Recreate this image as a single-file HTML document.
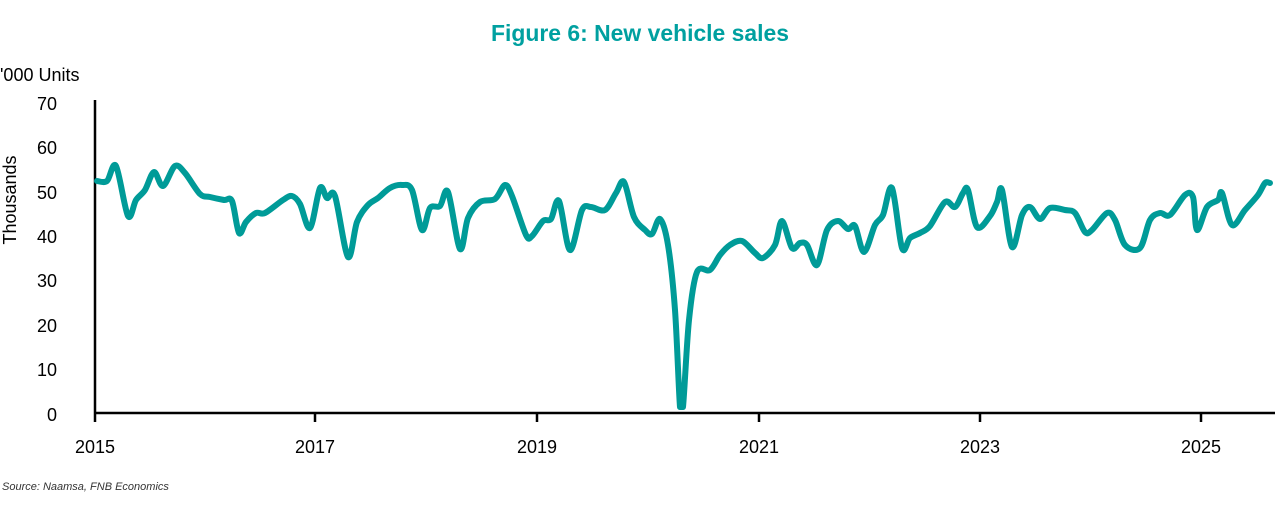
<!DOCTYPE html>
<html><head><meta charset="utf-8"><style>
body{margin:0;background:#fff;width:1280px;height:520px;overflow:hidden;font-family:"Liberation Sans",sans-serif}
</style></head><body>
<svg width="1280" height="520" xmlns="http://www.w3.org/2000/svg">
<text x="640" y="41" text-anchor="middle" font-family="Liberation Sans Narrow, Liberation Sans, sans-serif" font-weight="bold" font-size="23" fill="#00A0A0" textLength="298" lengthAdjust="spacingAndGlyphs">Figure 6: New vehicle sales</text>
<text x="0" y="81" font-size="18" fill="#000">'000 Units</text>
<text transform="translate(16,200) rotate(-90)" text-anchor="middle" font-size="18" fill="#000">Thousands</text>
<g font-size="18" fill="#000" text-anchor="end">
<text x="57" y="110">70</text><text x="57" y="154">60</text><text x="57" y="199">50</text><text x="57" y="243">40</text><text x="57" y="287">30</text><text x="57" y="332">20</text><text x="57" y="376">10</text><text x="57" y="421">0</text>
</g>
<g font-size="18" fill="#000" text-anchor="middle">
<text x="95" y="453">2015</text><text x="315" y="453">2017</text><text x="537" y="453">2019</text><text x="759" y="453">2021</text><text x="980" y="453">2023</text><text x="1201" y="453">2025</text>
</g>
<g stroke="#000" stroke-width="2.5">
<line x1="95" y1="100" x2="95" y2="422"/>
<line x1="94" y1="413" x2="1275" y2="413"/>
<line x1="315" y1="413" x2="315" y2="422"/><line x1="537" y1="413" x2="537" y2="422"/><line x1="759" y1="413" x2="759" y2="422"/><line x1="980" y1="413" x2="980" y2="422"/><line x1="1201" y1="413" x2="1201" y2="422"/>
</g>
<path id="ln" fill="none" stroke="#009B98" stroke-width="6" stroke-linejoin="round" stroke-linecap="round" d=""/>
<text x="2" y="490" font-size="11" font-style="italic" fill="#333">Source: Naamsa, FNB Economics</text>
</svg>
<script>
var s="97,181 107,181 116,166 128,216 136,200 145,190 154,172 163,186 175,166 185,173 200,194 210,197 224,200 232,201 239,233 246,222 256,213 265,213 283,200 292,196 300,204 310,228 320,188 327,198 335,196 348,257 357,222 368,205 378,198 390,188 402,185 412,190 422,230 430,208 440,206 448,192 460,249 468,218 480,202 495,199 505,185 512,196 526,235 532,236 543,221 551,219 559,201 570,250 582,210 591,207 605,210 616,193 624,182 634,217 645,230 652,234 660,219 668,245 675,310 680,407 683,407 689,320 697,272 710,270 720,255 730,245 742,241 755,253 763,258 775,245 782,221 792,248 800,243 807,245 817,265 827,230 838,221 848,229 855,226 864,252 875,225 883,215 892,188 902,248 910,238 920,233 930,226 945,202 955,207 963,193 968,190 977,227 990,216 997,202 1002,190 1012,247 1022,215 1030,207 1040,219 1050,208 1065,210 1075,213 1085,232 1092,230 1107,213 1115,220 1125,245 1140,248 1150,220 1160,213 1170,215 1185,195 1193,197 1197,230 1207,207 1218,200 1222,193 1232,225 1245,210 1258,195 1265,183 1270,183";
var p=s.split(" ").map(function(a){return a.split(",").map(Number);});
var d="M"+p[0][0]+","+p[0][1];
function cl(v){return Math.min(v,407);}
for(var i=0;i<p.length-1;i++){
var p0=p[i-1]||p[i],p1=p[i],p2=p[i+1],p3=p[i+2]||p2,t=0.16;
var c1x=p1[0]+(p2[0]-p0[0])*t,c1y=cl(p1[1]+(p2[1]-p0[1])*t),c2x=p2[0]-(p3[0]-p1[0])*t,c2y=cl(p2[1]-(p3[1]-p1[1])*t);
d+=" C"+c1x+","+c1y+" "+c2x+","+c2y+" "+p2[0]+","+p2[1];}
document.getElementById("ln").setAttribute("d",d);
</script>
</body></html>
